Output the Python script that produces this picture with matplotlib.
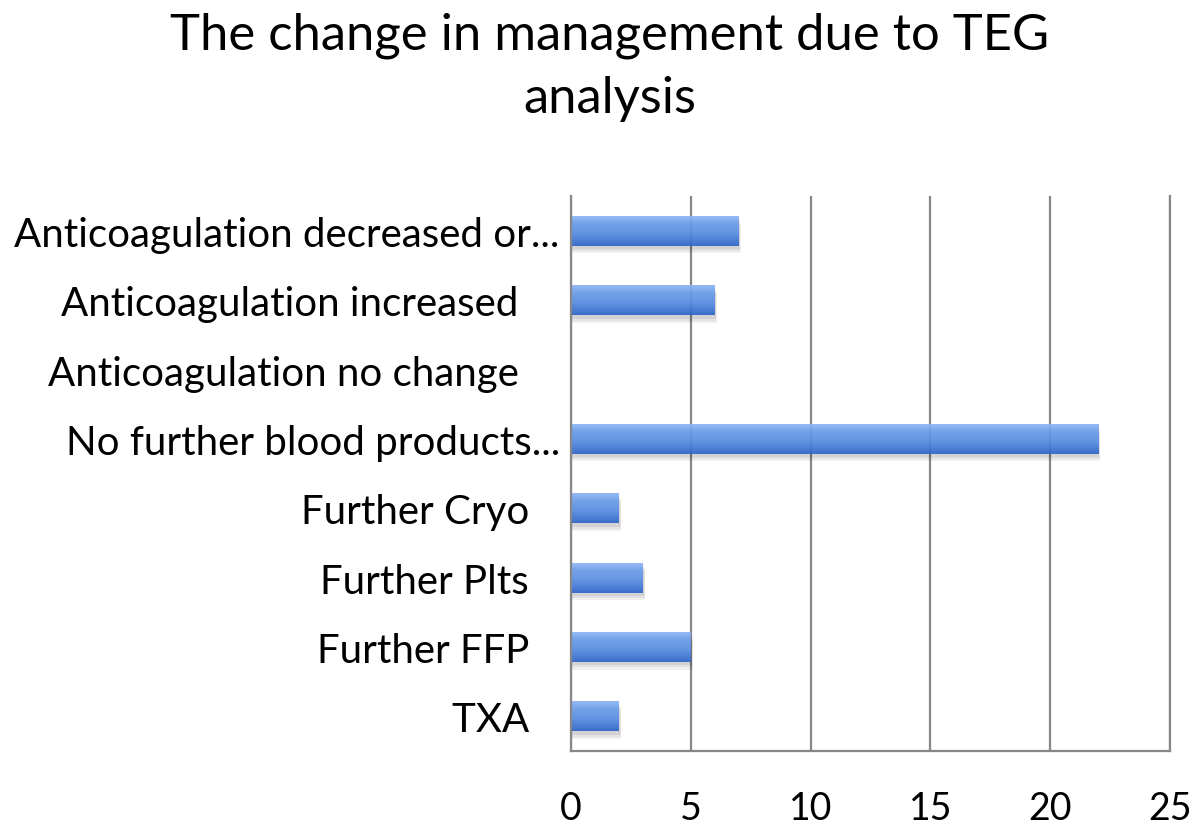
import numpy as np
import matplotlib
matplotlib.use("Agg")
import matplotlib.pyplot as plt
from matplotlib.colors import LinearSegmentedColormap

plt.rcParams['font.family'] = ['Lato', 'DejaVu Sans']

title = "The change in management due to TEG\nanalysis"
categories = [
    "Anticoagulation decreased or...",
    "Anticoagulation increased    ",
    "Anticoagulation no change    ",
    "No further blood products...",
    "Further Cryo   ",
    "Further Plts   ",
    "Further FFP   ",
    "TXA   ",
]
values = [7, 6, 0, 22, 2, 3, 5, 2]
xticks = [0, 5, 10, 15, 20, 25]

fig = plt.figure(figsize=(12, 8.28), dpi=100)
ax = fig.add_axes([0.4758, 0.0918, 0.4992, 0.670])

n = len(categories)
ypos = np.arange(n)[::-1]
bar_h = 0.43

grid_c = "#878787"
ax.set_axisbelow(True)
ax.grid(axis='x', color=grid_c, linewidth=1.6)

bars = ax.barh(ypos, values, height=bar_h, color='none', edgecolor='none', zorder=2)

cmap = LinearSegmentedColormap.from_list(
    "bar", ["#2F66C8", "#4A80DC", "#6194E6", "#6C9DEA", "#8DB5F4"])
grad = np.linspace(0, 1, 64).reshape(-1, 1)
for b in bars:
    w = b.get_width()
    if w <= 0:
        continue
    x0, y0, h = b.get_x(), b.get_y(), b.get_height()
    # soft shadow (layered)
    for k, a in enumerate([0.06, 0.06, 0.06]):
        d = 0.03 * (k + 1)
        ax.add_patch(plt.Rectangle((x0 + 0.05, y0 - d - 0.02), w + 0.02 * k, h,
                                   facecolor='#000000', alpha=a,
                                   edgecolor='none', zorder=1.5))
    ax.imshow(grad, extent=[x0, x0 + w, y0, y0 + h], origin='lower',
              aspect='auto', cmap=cmap, zorder=2, alpha=0.93, interpolation='bicubic')

ax.set_xlim(0, 25)
ax.set_ylim(-0.5, n - 0.5)
ax.set_xticks(xticks)
ax.set_xticklabels([str(t) for t in xticks])
ax.set_yticks(ypos)
ax.set_yticklabels(categories)
ax.tick_params(axis='both', length=0, colors='black')
ax.tick_params(axis='x', pad=28, labelsize=27)
ax.tick_params(axis='y', pad=8, labelsize=29)

for s in ['left', 'bottom', 'right']:
    ax.spines[s].set_color(grid_c)
    ax.spines[s].set_linewidth(1.6)
ax.spines['top'].set_visible(False)

fig.text(0.508, 0.985, title, ha='center', va='top', fontsize=36.5,
         linespacing=1.45, color='black')

fig.savefig("out.png", dpi=100, facecolor='white')
